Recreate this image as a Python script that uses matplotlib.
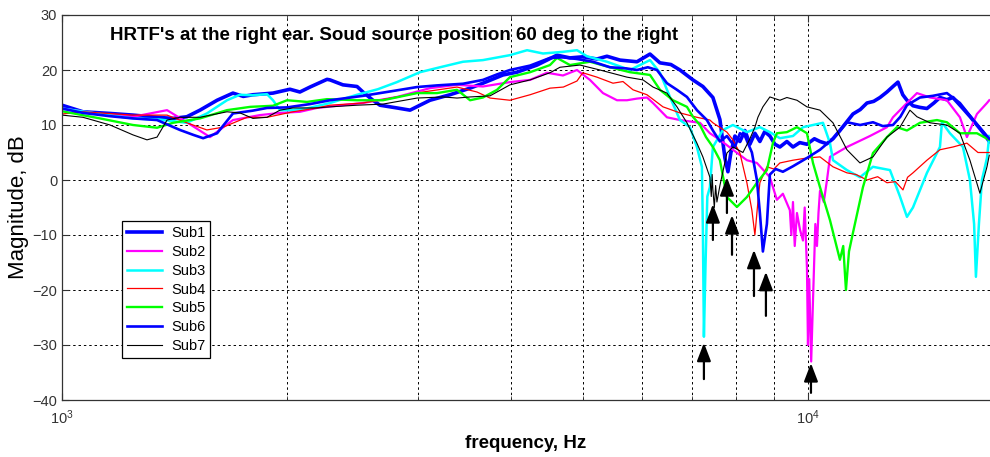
import matplotlib
matplotlib.use('Agg')
import matplotlib.pyplot as plt

plt.rcParams['font.family'] = ['Liberation Sans', 'DejaVu Sans']

# (frequency Hz, magnitude dB), one list per subject
sub1 = [(1000, 13.6), (1067, 12.4), (1160, 12.1), (1245, 11.8), (1341, 11.4), (1409, 11.2), (1470, 11.5),
        (1531, 12.7), (1614, 14.5), (1695, 15.8), (1750, 15.2), (1803, 15.5), (1918, 15.8), (2021, 16.5),
        (2084, 16.0), (2150, 16.9), (2266, 18.3), (2287, 18.2), (2380, 17.3), (2486, 17.0), (2532, 16.0),
        (2611, 14.5), (2668, 13.6), (2812, 13.1), (2928, 12.7), (3019, 13.6), (3114, 14.5), (3312, 15.5),
        (3524, 16.7), (3667, 17.6), (3901, 19.1), (4073, 19.6), (4333, 20.9), (4608, 22.7), (4797, 22.2),
        (4993, 22.4), (5214, 22.0), (5377, 22.5), (5598, 21.8), (5899, 21.5), (6141, 22.9), (6333, 21.3),
        (6550, 21.0), (6736, 20.0), (7011, 18.2), (7230, 17.0), (7457, 15.0), (7620, 11.0), (7739, 4.0),
        (7811, 1.5), (7883, 5.0), (7981, 8.0), (8105, 7.0), (8231, 9.0), (8359, 6.5), (8489, 8.5),
        (8621, 7.0), (8750, 8.8), (8891, 8.0), (9030, 6.5), (9170, 6.0), (9370, 7.0), (9548, 6.0),
        (9750, 6.8), (9969, 6.5), (10200, 7.5), (10378, 7.0), (10600, 6.6), (10803, 7.5), (11037, 9.0),
        (11490, 12.0), (11750, 12.8), (11998, 14.0), (12250, 14.3), (12489, 15.0), (12760, 16.0),
        (13000, 17.0), (13202, 17.8), (13400, 15.5), (13574, 14.5), (13828, 13.5), (14130, 13.2),
        (14438, 13.0), (14750, 14.0), (15029, 15.0), (15350, 14.6), (15643, 15.0), (16134, 13.0),
        (16500, 11.5), (16846, 10.0), (17200, 8.5), (17500, 7.0)]

sub2 = [(1000, 13.0), (1124, 12.0), (1245, 11.5), (1383, 12.7), (1470, 10.5), (1579, 7.8), (1695, 10.9),
        (1842, 11.8), (1960, 12.2), (2084, 12.4), (2197, 13.1), (2532, 14.0), (2812, 15.1), (3114, 16.7),
        (3385, 17.3), (3667, 17.0), (3986, 17.8), (4241, 18.2), (4469, 19.5), (4694, 19.0), (4902, 20.0),
        (5102, 18.2), (5311, 15.8), (5546, 14.5), (5720, 14.5), (5899, 14.8), (6084, 15.0), (6198, 14.0),
        (6471, 11.4), (6736, 10.9), (7164, 10.4), (7388, 8.5), (7620, 7.3), (7932, 5.5), (8282, 3.6),
        (8542, 3.1), (8891, 0.5), (9085, -3.6), (9255, -2.5), (9457, -5.5), (9500, -10.0), (9548, -4.0),
        (9600, -12.0), (9666, -6.0), (9756, -9.0), (9847, -11.0), (9900, -5.0), (9969, -16.0),
        (10000, -30.0), (10040, -18.0), (10100, -33.0), (10156, -22.0), (10230, -8.0), (10282, -12.0),
        (10330, -6.0), (10378, -2.0), (10500, -4.0), (10605, 0.0), (10703, 4.2), (11278, 6.0),
        (12109, 8.0), (12762, 9.6), (13000, 11.4), (13574, 14.0), (14000, 15.8), (14573, 15.0),
        (15355, 14.5), (15985, 11.4), (16334, 7.8), (16846, 12.0), (17377, 14.0), (17500, 14.5)]

sub3 = [(1000, 13.0), (1124, 12.0), (1245, 11.2), (1350, 11.0), (1470, 10.4), (1564, 12.1), (1664, 14.5),
        (1732, 15.5), (1800, 15.4), (1883, 15.6), (1918, 14.5), (1960, 12.7), (2021, 12.7), (2130, 13.0),
        (2287, 14.0), (2486, 15.5), (2650, 16.5), (2812, 17.8), (3019, 19.6), (3212, 20.5), (3448, 21.5),
        (3667, 21.8), (3986, 22.7), (4202, 23.6), (4414, 23.0), (4694, 23.3), (4902, 23.6), (5055, 22.5),
        (5377, 21.5), (5773, 20.0), (6141, 21.8), (6333, 19.5), (6531, 15.1), (6736, 10.9), (6947, 9.6),
        (7098, 6.0), (7208, 2.4), (7230, -9.0), (7253, -28.5), (7290, -15.0), (7330, -3.0), (7388, -1.3),
        (7457, 6.0), (7691, 9.1), (7932, 10.0), (8282, 8.7), (8621, 9.6), (8891, 8.7), (9170, 7.6),
        (9548, 8.0), (9847, 9.6), (10156, 10.0), (10474, 10.4), (10703, 6.7), (10803, 3.6), (11278, 1.8),
        (11741, 0.5), (12222, 2.4), (12880, 1.8), (13284, -3.0), (13574, -6.7), (13828, -5.0),
        (14438, 1.3), (15029, 6.0), (15122, 10.5), (15499, 8.5), (16134, 6.0), (16486, 0.0),
        (16700, -8.0), (16794, -17.6), (16950, -8.0), (17108, 0.0), (17377, 4.0), (17500, 8.0)]

sub4 = [(1000, 12.0), (1067, 12.4), (1245, 11.8), (1383, 11.8), (1470, 10.4), (1564, 9.1), (1644, 9.6),
        (1770, 11.4), (1883, 11.4), (2040, 12.4), (2197, 13.1), (2287, 13.6), (2532, 14.0), (2812, 15.1),
        (3047, 16.0), (3385, 16.9), (3600, 16.0), (3748, 14.9), (3986, 14.5), (4241, 15.5), (4510, 16.7),
        (4700, 16.9), (4902, 18.0), (4990, 19.5), (5214, 18.7), (5478, 17.6), (5650, 17.9), (5827, 16.4),
        (6084, 15.5), (6392, 13.3), (6736, 12.2), (7098, 11.4), (7388, 10.9), (7457, 10.4), (7787, 8.7),
        (7932, 7.3), (8105, 4.9), (8282, -0.5), (8411, -5.5), (8489, -10.0), (8568, -4.0), (8621, -0.5),
        (8809, 2.4), (9000, 2.0), (9170, 3.1), (9548, 3.6), (9969, 4.0), (10378, 4.2), (10803, 2.4),
        (11278, 1.3), (11600, 1.0), (11998, 0.0), (12400, 0.6), (12762, -0.5), (13100, -0.3),
        (13408, -1.8), (13600, 0.5), (13828, 1.3), (14438, 3.6), (15029, 5.5), (15643, 6.0),
        (16334, 6.7), (16900, 5.0), (17500, 5.0)]

sub5 = [(1000, 12.5), (1124, 11.2), (1245, 10.0), (1341, 9.5), (1409, 10.4), (1531, 11.2), (1664, 12.7),
        (1788, 13.3), (1918, 13.5), (2003, 14.5), (2130, 14.2), (2266, 14.7), (2486, 14.5), (2693, 14.5),
        (2992, 15.8), (3182, 15.8), (3385, 16.4), (3524, 14.5), (3667, 15.0), (3830, 16.4), (3986, 18.7),
        (4241, 19.6), (4510, 20.9), (4608, 22.2), (4797, 20.9), (5102, 21.5), (5427, 20.5), (5773, 19.6),
        (6141, 19.1), (6333, 16.4), (6592, 14.5), (6883, 13.3), (7011, 11.5), (7164, 10.0), (7300, 7.8),
        (7457, 6.0), (7620, 3.6), (7787, -3.1), (8031, -4.9), (8282, -3.1), (8542, -0.5), (8809, 1.8),
        (8974, 6.7), (9085, 8.5), (9370, 8.7), (9666, 9.6), (9969, 8.5), (10156, 3.1), (10378, -1.3),
        (10605, -5.5), (10703, -7.3), (11037, -14.5), (11150, -12.0), (11244, -20.0), (11350, -13.0),
        (11490, -9.6), (11850, -1.3), (12222, 4.9), (12762, 7.8), (13161, 9.6), (13574, 9.0),
        (14130, 10.4), (14891, 10.9), (15355, 10.5), (15985, 8.5), (16846, 8.5), (17500, 7.3)]

sub6 = [(1000, 13.0), (1067, 12.2), (1160, 11.6), (1245, 11.2), (1341, 10.9), (1439, 9.1), (1500, 8.2),
        (1546, 7.6), (1614, 8.5), (1695, 12.1), (1800, 12.6), (1883, 13.1), (2003, 13.2), (2150, 13.8),
        (2287, 14.5), (2532, 15.3), (2668, 15.8), (2812, 16.3), (2992, 16.9), (3182, 17.2), (3448, 17.5),
        (3667, 18.2), (3830, 19.2), (3986, 20.0), (4241, 20.8), (4510, 22.2), (4694, 22.3), (4902, 22.0),
        (5150, 21.5), (5427, 20.5), (5700, 20.3), (5899, 20.0), (6100, 20.5), (6274, 20.0), (6471, 17.6),
        (6674, 16.4), (6883, 15.1), (7098, 12.7), (7320, 10.9), (7457, 9.0), (7620, 7.0), (7787, 8.0),
        (7981, 6.0), (8105, 8.5), (8231, 8.0), (8411, 5.0), (8542, 0.0), (8621, -6.0), (8701, -13.0),
        (8809, -8.0), (8891, 1.0), (9050, 2.0), (9255, 1.5), (9548, 2.5), (9969, 4.0), (10378, 5.5),
        (10803, 7.5), (11278, 10.5), (11750, 10.0), (12222, 10.5), (12600, 9.8), (13000, 10.0),
        (13300, 11.5), (13574, 13.6), (14130, 15.0), (14700, 15.3), (15355, 15.8), (15985, 14.0),
        (16640, 11.0), (17377, 8.0), (17500, 7.5)]

sub7 = [(1000, 11.8), (1067, 11.4), (1160, 10.0), (1245, 8.2), (1300, 7.3), (1341, 7.8), (1383, 10.9),
        (1439, 11.4), (1531, 11.4), (1664, 12.4), (1732, 12.2), (1803, 11.2), (1883, 11.4), (1960, 12.7),
        (2040, 13.1), (2197, 13.1), (2287, 13.3), (2486, 13.6), (2693, 13.8), (2992, 14.9), (3242, 15.1),
        (3385, 14.9), (3524, 15.1), (3748, 15.3), (3986, 17.3), (4241, 18.2), (4510, 19.5), (4651, 20.5),
        (4947, 20.9), (5262, 20.0), (5720, 18.7), (6010, 18.2), (6198, 16.9), (6471, 15.8), (6674, 13.3),
        (6883, 10.4), (7098, 6.7), (7230, 4.2), (7388, 0.5), (7420, -3.0), (7440, 1.0), (7457, -1.8),
        (7490, -5.0), (7520, -1.0), (7550, -4.0), (7620, -1.0), (7787, 4.9), (7932, 6.0), (8181, 5.0),
        (8359, 7.5), (8489, 9.6), (8568, 11.4), (8701, 13.3), (8891, 15.1), (9170, 14.5), (9370, 15.0),
        (9666, 14.5), (9969, 13.3), (10378, 12.7), (10803, 10.4), (11278, 5.5), (11741, 3.1),
        (12222, 4.2), (12762, 7.8), (13284, 9.6), (13700, 12.7), (14000, 11.5), (14573, 10.4),
        (15355, 10.0), (15985, 8.5), (16486, 3.6), (17002, -2.4), (17377, 2.4), (17500, 4.5)]

labels = ['Sub1', 'Sub2', 'Sub3', 'Sub4', 'Sub5', 'Sub6', 'Sub7']

# arrows marking the notches: tip frequency, tip dB, tail dB
arrow_f = [7457, 7787, 7910, 8465, 8783, 7253, 10093]
arrow_tip = [-4.4, 0.5, -6.4, -12.7, -16.7, -29.6, -33.3]
arrow_tail = [-10.9, -6.0, -13.6, -21.1, -24.7, -36.2, -38.7]

colors = ['#0000ff', '#ff00ff', '#00ffff', '#ff0000', '#00ff00', '#0000ff', '#000000']
widths = [2.6, 1.6, 1.8, 0.9, 1.7, 1.9, 0.8]

fig = plt.figure(figsize=(9.9, 4.57), dpi=100)
ax = fig.add_axes([62/990, 1-400/457, 928/990, 385/457])

for pts, lab, c, w in zip([sub1, sub2, sub3, sub4, sub5, sub6, sub7], labels, colors, widths):
    f = [p[0] for p in pts]
    m = [p[1] for p in pts]
    ax.semilogx(f, m, color=c, lw=w, label=lab)

for f, t0, t1 in zip(arrow_f, arrow_tip, arrow_tail):
    ax.annotate('', xy=(f, t0), xytext=(f, t1),
                arrowprops=dict(arrowstyle='-|>,head_length=1.1,head_width=0.42', color='k',
                                lw=1.6, mutation_scale=10, shrinkA=0, shrinkB=0))

ax.set_xlim(1000, 17540)
ax.set_ylim(-40, 30)
ax.set_yticks(range(-40, 31, 10))
ax.grid(which='both', axis='both', color='k', linestyle=(0, (2.5, 3)), linewidth=0.7)
ax.tick_params(which='both', direction='in', top=True, right=False, labelsize=10.5,
               labelcolor='#333333', colors='#333333')
ax.tick_params(which='major', length=5)
ax.tick_params(which='minor', length=3)
ax.tick_params(axis='x', pad=6)
ax.spines['right'].set_visible(False)
for s in ['left', 'bottom', 'top']:
    ax.spines[s].set_color('#333333')
    ax.spines[s].set_linewidth(0.9)

ax.set_ylabel('Magnitude, dB', fontsize=16, labelpad=2)
ax.set_xlabel('frequency, Hz', fontsize=13.5, fontweight='bold', labelpad=6)
ax.text(0.0517, 0.948, "HRTF's at the right ear. Soud source position 60 deg to the right",
        transform=ax.transAxes, fontsize=13.5, fontweight='bold', ha='left', va='center')

leg = ax.legend(loc='upper left', bbox_to_anchor=(0.0647, 0.465), borderaxespad=0, fontsize=10.5,
                fancybox=False, framealpha=1, edgecolor='k', handlelength=2.4, labelspacing=0.33,
                borderpad=0.35, handletextpad=0.6)
leg.get_frame().set_linewidth(0.9)

plt.savefig('out.png', dpi=100)
